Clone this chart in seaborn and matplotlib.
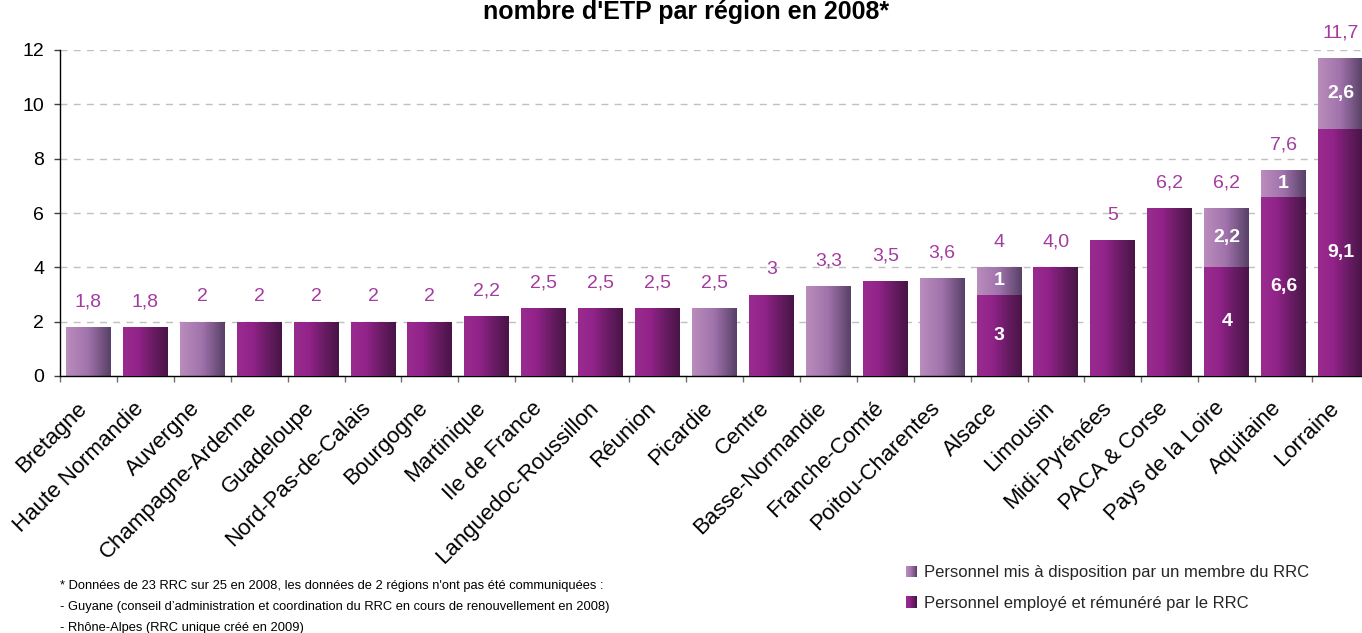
import numpy as np
import pandas as pd
import matplotlib
matplotlib.use("Agg")
import matplotlib.pyplot as plt
import matplotlib.transforms as mtransforms
import seaborn as sns
from matplotlib.colors import LinearSegmentedColormap
from matplotlib.legend_handler import HandlerBase
from matplotlib.patches import Rectangle, Patch

# ---- data -------------------------------------------------------------
regions = [
    "Bretagne", "Haute Normandie", "Auvergne", "Champagne-Ardenne", "Guadeloupe",
    "Nord-Pas-de-Calais", "Bourgogne", "Martinique", "Ile de France",
    "Languedoc-Roussillon", "Réunion", "Picardie", "Centre", "Basse-Normandie",
    "Franche-Comté", "Poitou-Charentes", "Alsace", "Limousin", "Midi-Pyrénées",
    "PACA & Corse", "Pays de la Loire", "Aquitaine", "Lorraine",
]
# staff employed and paid by the RRC
employe = [0, 1.8, 0, 2, 2, 2, 2, 2.2, 2.5, 2.5, 2.5, 0, 3, 0, 3.5, 0,
           3, 4.0, 5, 6.2, 4, 6.6, 9.1]
# staff made available by a member of the RRC
mis_a_dispo = [1.8, 0, 2, 0, 0, 0, 0, 0, 0, 0, 0, 2.5, 0, 3.3, 0, 3.6,
               1, 0, 0, 0, 2.2, 1, 2.6]
# total labels as printed above each bar
total_labels = ["1,8", "1,8", "2", "2", "2", "2", "2", "2,2", "2,5", "2,5",
                "2,5", "2,5", "3", "3,3", "3,5", "3,6", "4", "4,0", "5",
                "6,2", "6,2", "7,6", "11,7"]

legend_labels = ["Personnel mis à disposition par un membre du RRC",
                 "Personnel employé et rémunéré par le RRC"]
title = "nombre d'ETP par région en 2008*"
footnotes = [
    "* Données de 23 RRC sur 25 en 2008, les données de 2 régions n'ont pas été communiquées :",
    "- Guyane (conseil d’administration et coordination du RRC en cours de renouvellement en 2008)",
    "- Rhône-Alpes (RRC unique créé en 2009)",
]

# ---- style ------------------------------------------------------------
sns.set_theme(style="white")
plt.rcParams["font.family"] = ["Liberation Sans", "DejaVu Sans"]

light_cmap = LinearSegmentedColormap.from_list(
    "light", ["#bb8dbd", "#9f72ab", "#574065"])
dark_cmap = LinearSegmentedColormap.from_list(
    "dark", ["#9a2b8e", "#92238a", "#6a1c65", "#481446"])
label_color = "#a23c9f"

df = pd.DataFrame({"region": regions, "employe": employe, "mis": mis_a_dispo})
df["total"] = df["employe"] + df["mis"]

W, H = 1362, 633
fig = plt.figure(figsize=(W / 100, H / 100), dpi=100)
ax = fig.add_axes([60 / W, (H - 376) / H, 1309 / W, 326 / H])

bar_w = 0.79
sns.barplot(data=df, x="region", y="total", color=light_cmap(0.5), width=bar_w,
            saturation=1, errorbar=None, ax=ax, zorder=2)
n_light = len(ax.patches)
sns.barplot(data=df, x="region", y="employe", color=dark_cmap(0.5), width=bar_w,
            saturation=1, errorbar=None, ax=ax, zorder=3)

# horizontal gradient fill for each bar
grad = np.linspace(0, 1, 256).reshape(1, -1)
for i, p in enumerate(ax.patches):
    h = p.get_height()
    if not np.isfinite(h) or h <= 0:
        p.set_visible(False)
        continue
    cmap = light_cmap if i < n_light else dark_cmap
    x0, y0 = p.get_x(), p.get_y()
    im = ax.imshow(grad, cmap=cmap, aspect="auto", interpolation="bilinear",
                   extent=[x0, x0 + p.get_width(), y0, y0 + h],
                   zorder=p.get_zorder())
    im.set_clip_path(p)
    p.set_facecolor("none")
    p.set_edgecolor("none")

ax.set_xlim(-0.5, len(regions) - 0.5)
ax.set_ylim(0, 12)
ax.set_yticks(range(0, 13, 2))
ax.set_xlabel("")
ax.set_ylabel("")

# grid, spines, ticks
ax.set_axisbelow(True)
ax.yaxis.grid(True, linestyle=(0, (5, 4.5)), color="#c0c0c0", linewidth=1.0)
ax.xaxis.grid(False)
for s in ["top", "right"]:
    ax.spines[s].set_visible(False)
for s in ["left", "bottom"]:
    ax.spines[s].set_color("black")
    ax.spines[s].set_linewidth(1.0)

ax.tick_params(axis="y", which="major", length=4.5, width=1, color="#404040",
               direction="out", left=True, pad=7, labelsize=14, labelcolor="black")
ax.set_xticks(np.arange(len(regions)))
ax.set_xticks(np.arange(-0.5, len(regions)), minor=True)
ax.tick_params(axis="x", which="major", length=0, pad=21, labelsize=16,
               labelcolor="black")
ax.tick_params(axis="x", which="minor", length=4.5, width=1, color="#707070",
               direction="out", bottom=True)
ax.set_xticklabels(regions, rotation=45, ha="right", va="center",
                   rotation_mode="anchor")
shift = mtransforms.ScaledTranslation(-5 / 100, 0, fig.dpi_scale_trans)
for lab in ax.get_xticklabels():
    lab.set_transform(lab.get_transform() + shift)

# total labels above each bar
for i, (tot, txt) in enumerate(zip(df["total"], total_labels)):
    ax.annotate(txt, (i, tot), xytext=(0, 18), textcoords="offset points",
                ha="center", va="center", fontsize=14, color=label_color,
                annotation_clip=False)

# segment labels inside stacked bars
for i, (e, m) in enumerate(zip(df["employe"], df["mis"])):
    if e > 0 and m > 0:
        for val, mid in ((e, e / 2), (m, e + m / 2)):
            ax.text(i, mid, f"{val:g}".replace(".", ","), ha="center",
                    va="center", fontsize=14, fontweight="bold", color="white",
                    zorder=5)

# title
fig.text(686 / W, 1 - 19 / H, title, ha="center", va="baseline",
         fontsize=18, fontweight="bold", color="black")


# legend with gradient squares
class GradientSquare(HandlerBase):
    def __init__(self, cmap):
        super().__init__()
        self.cmap = cmap

    def create_artists(self, legend, orig_handle, xdescent, ydescent, width,
                       height, fontsize, trans):
        n = 14
        arts = []
        for k in range(n):
            arts.append(Rectangle((-xdescent + k * width / n, -ydescent),
                                  width / n * 1.08, height,
                                  facecolor=self.cmap((k + 0.5) / n),
                                  edgecolor="none", transform=trans))
        return arts


h_light = Patch(color=light_cmap(0.5))
h_dark = Patch(color=dark_cmap(0.5))
fig.legend([h_light, h_dark], legend_labels,
           handler_map={h_light: GradientSquare(light_cmap),
                        h_dark: GradientSquare(dark_cmap)},
           loc="upper left", bbox_to_anchor=(906 / W, 1 - 565 / H),
           frameon=False, fontsize=12, handlelength=0.65, handleheight=0.65,
           handletextpad=0.45, labelspacing=0.95, borderpad=0, borderaxespad=0)

# footnotes
for k, line in enumerate(footnotes):
    fig.text(60 / W, 1 - (586 + 21 * k) / H, line, ha="left", va="center",
             fontsize=9.3, color="black",
             family=["Liberation Sans Narrow", "Liberation Sans", "DejaVu Sans"])

fig.savefig("out.png", dpi=100)
